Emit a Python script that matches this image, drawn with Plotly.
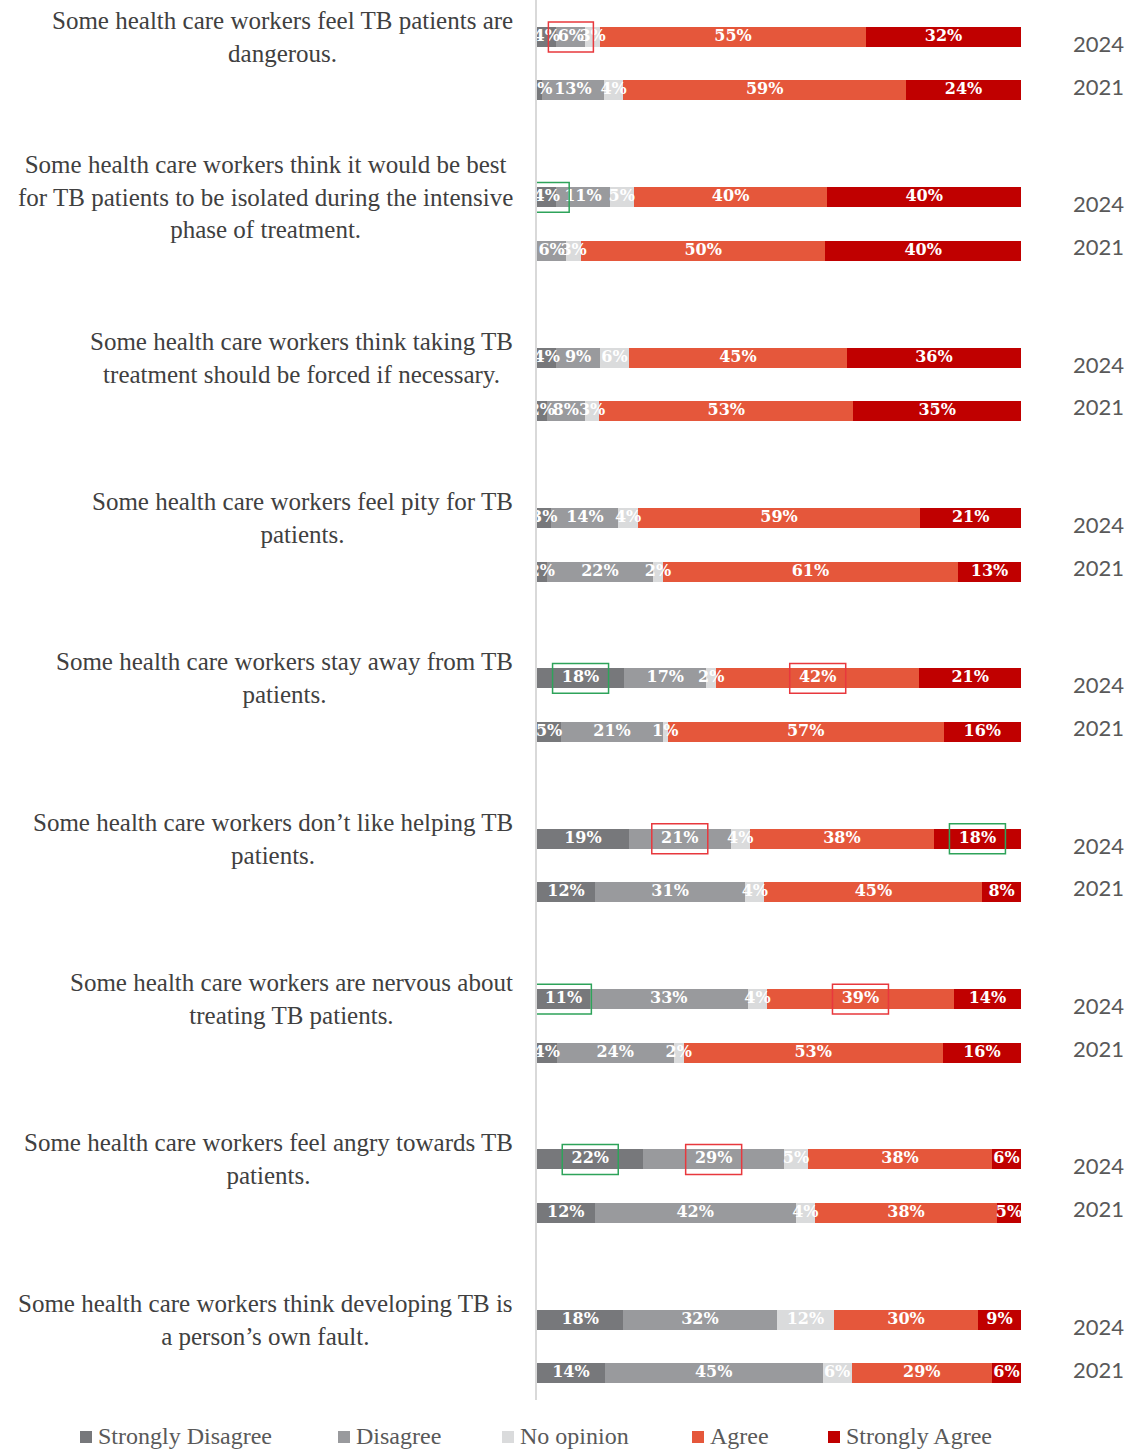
import plotly.graph_objects as go

# Survey statements (one group of two bars each)
statements = [
    "Some health care workers feel TB patients are<br>dangerous.",
    "Some health care workers think it would be best<br>for TB patients to be isolated during the intensive<br>phase of treatment.",
    "Some health care workers think taking TB<br>treatment should be forced if necessary.",
    "Some health care workers feel pity for TB<br>patients.",
    "Some health care workers stay away from TB<br>patients.",
    "Some health care workers don\u2019t like helping TB<br>patients.",
    "Some health care workers are nervous about<br>treating TB patients.",
    "Some health care workers feel angry towards TB<br>patients.",
    "Some health care workers think developing TB is<br>a person\u2019s own fault.",
]
years = ["2024", "2021"]
categories = ["Strongly Disagree", "Disagree", "No opinion", "Agree", "Strongly Agree"]

# Percentages per response category (2024 survey)
strongly_disagree_2024 = [4, 4, 4, 3, 18, 19, 11, 22, 18]
disagree_2024 = [6, 11, 9, 14, 17, 21, 33, 29, 32]
no_opinion_2024 = [3, 5, 6, 4, 2, 4, 4, 5, 12]
agree_2024 = [55, 40, 45, 59, 42, 38, 39, 38, 30]
strongly_agree_2024 = [32, 40, 36, 21, 21, 18, 14, 6, 9]

# Percentages per response category (2021 survey)
strongly_disagree_2021 = [1, 0, 2, 2, 5, 12, 4, 12, 14]
disagree_2021 = [13, 6, 8, 22, 21, 31, 24, 42, 45]
no_opinion_2021 = [4, 3, 3, 2, 1, 4, 2, 4, 6]
agree_2021 = [59, 50, 53, 61, 57, 45, 53, 38, 29]
strongly_agree_2021 = [24, 40, 35, 13, 16, 8, 16, 5, 6]

# Highlighted labels: (statement index, year, category, outline colour)
highlights = [
    (0, "2024", "Disagree", "red"),
    (1, "2024", "Strongly Disagree", "green"),
    (4, "2024", "Strongly Disagree", "green"),
    (4, "2024", "Agree", "red"),
    (5, "2024", "Disagree", "red"),
    (5, "2024", "Strongly Agree", "green"),
    (6, "2024", "Strongly Disagree", "green"),
    (6, "2024", "Agree", "red"),
    (7, "2024", "Strongly Disagree", "green"),
    (7, "2024", "Disagree", "red"),
]

colors = {
    "Strongly Disagree": "#77787b",
    "Disagree": "#999a9d",
    "No opinion": "#dadbdc",
    "Agree": "#e5573b",
    "Strongly Agree": "#c00000",
}
outline_colors = {"red": "#e8383d", "green": "#2ea35a"}

series = {
    "2024": [strongly_disagree_2024, disagree_2024, no_opinion_2024, agree_2024, strongly_agree_2024],
    "2021": [strongly_disagree_2021, disagree_2021, no_opinion_2021, agree_2021, strongly_agree_2021],
}

# Figure geometry (pixels)
W, H = 1137, 1450
ML, MR, MT, MB = 537, 116, 0, 50
PW, PH = W - ML - MR, H - MT - MB
Y_TOP, Y_BOTTOM = -0.692, 25.5
BAR_W = 0.374


def row_pos(i, year):
    return 3 * i + (0 if year == "2024" else 1)


def px_x(px):
    return (px - ML) / PW


def px_y(py):
    return (H - MB - py) / PH


serif = "Liberation Serif"

# Build rows: values per category for each bar
ypos, per_cat = [], {c: [] for c in categories}
for i in range(len(statements)):
    for yr in years:
        ypos.append(row_pos(i, yr))
        for c, arr in zip(categories, series[yr]):
            per_cat[c].append(arr[i])

fig = go.Figure()
for c in categories:
    fig.add_trace(go.Bar(
        orientation="h", x=per_cat[c], y=ypos, width=BAR_W,
        marker=dict(color=colors[c], line=dict(width=0)),
        name=c, showlegend=False, hoverinfo="skip",
    ))

# Value labels, centred in each segment of the normalised stack
label_x, label_y, label_t = [], [], []
centres = {}
for k, y in enumerate(ypos):
    vals = [per_cat[c][k] for c in categories]
    total = sum(vals)
    cum = 0
    for c, v in zip(categories, vals):
        mid = (cum + v / 2) / total * 100
        cum += v
        centres[(y, c)] = (mid, f"{v}%")
        if v > 0:
            label_x.append(mid)
            label_y.append(y)
            label_t.append(f"{v}%")

fig.add_trace(go.Scatter(
    x=label_x, y=label_y, text=label_t, mode="text", cliponaxis=False,
    textfont=dict(family="DejaVu Serif", size=16, color="white", weight="bold"),
    showlegend=False, hoverinfo="skip",
))

shapes = []
for i, yr, c, col in highlights:
    y = row_pos(i, yr)
    mid, txt = centres[(y, c)]
    half = (22.5 if len(txt) <= 2 else 28) / PW * 100
    shapes.append(dict(
        type="rect", xref="x", yref="y",
        x0=mid - half, x1=mid + half, y0=y - 0.28, y1=y + 0.28,
        line=dict(color=outline_colors[col], width=1.5), layer="above",
    ))

annotations = []
for i, s in enumerate(statements):
    annotations.append(dict(
        text=s, xref="paper", yref="y", x=px_x(515), y=row_pos(i, "2024"),
        xanchor="right", yanchor="middle", align="center", showarrow=False,
        font=dict(family=serif, size=25, color="#404040"),
    ))
    for yr, dy in (("2024", 0.12), ("2021", -0.08)):
        annotations.append(dict(
            text=yr, xref="paper", yref="y", x=px_x(1098), y=row_pos(i, yr) + dy,
            xanchor="center", yanchor="middle", showarrow=False,
            font=dict(family="Lato", size=22, color="#595959"),
        ))

# Legend drawn as coloured squares with labels along the bottom
legend_sq = [80, 338, 502, 692, 828]
legend_y = 1436
for c, sx in zip(categories, legend_sq):
    shapes.append(dict(
        type="rect", xref="paper", yref="paper",
        x0=px_x(sx), x1=px_x(sx + 12), y0=px_y(legend_y + 7), y1=px_y(legend_y - 5),
        fillcolor=colors[c], line=dict(width=0),
    ))
    annotations.append(dict(
        text=c, xref="paper", yref="paper", x=px_x(sx + 16), y=px_y(legend_y),
        xanchor="left", yanchor="middle", showarrow=False,
        font=dict(family=serif, size=24, color="#595959"),
    ))

fig.update_layout(
    width=W, height=H,
    margin=dict(l=ML, r=MR, t=MT, b=MB, pad=0),
    barmode="stack", barnorm="percent",
    plot_bgcolor="white", paper_bgcolor="white",
    xaxis=dict(range=[0, 100], visible=False, fixedrange=True),
    yaxis=dict(range=[Y_BOTTOM, Y_TOP], showticklabels=False, showgrid=False,
               zeroline=False, showline=True, linecolor="#d9d9d9", linewidth=1.5,
               ticks="", fixedrange=True),
    shapes=shapes, annotations=annotations,
)

fig.write_html("out.html")
